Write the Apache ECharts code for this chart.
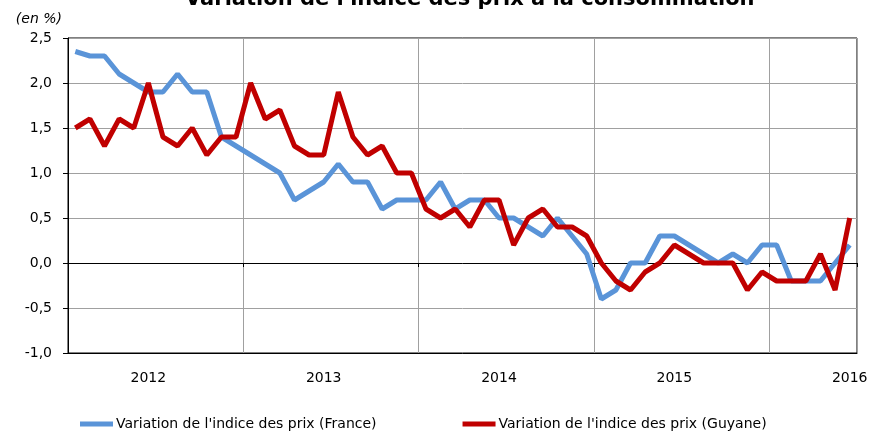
<!DOCTYPE html>
<html>
<head>
<meta charset="utf-8">
<script src="https://cdn.jsdelivr.net/npm/echarts@6/dist/echarts.min.js"></script>
<style>
  html, body { margin: 0; padding: 0; background: #fff; }
  #main { width: 873px; height: 434px; }
</style>
</head>
<body>
<div id="main"></div>
<script>
// mois de janvier 2012 à juin 2016
var years = [2012, 2013, 2014, 2015, 2016];
var months = [];
years.forEach(function (y) {
    for (var m = 1; m <= 12; m++) {
        if (y === 2016 && m > 6) break;
        months.push(y + '-' + (m < 10 ? '0' + m : m));
    }
});

var france = [
    2.35, 2.3, 2.3, 2.1, 2.0, 1.9, 1.9, 2.1, 1.9, 1.9, 1.4, 1.3,
    1.2, 1.1, 1.0, 0.7, 0.8, 0.9, 1.1, 0.9, 0.9, 0.6, 0.7, 0.7,
    0.7, 0.9, 0.6, 0.7, 0.7, 0.5, 0.5, 0.4, 0.3, 0.5, 0.3, 0.1,
    -0.4, -0.3, 0.0, 0.0, 0.3, 0.3, 0.2, 0.1, 0.0, 0.1, 0.0, 0.2,
    0.2, -0.2, -0.2, -0.2, 0.0, 0.2
];
var guyane = [
    1.5, 1.6, 1.3, 1.6, 1.5, 2.0, 1.4, 1.3, 1.5, 1.2, 1.4, 1.4,
    2.0, 1.6, 1.7, 1.3, 1.2, 1.2, 1.9, 1.4, 1.2, 1.3, 1.0, 1.0,
    0.6, 0.5, 0.6, 0.4, 0.7, 0.7, 0.2, 0.5, 0.6, 0.4, 0.4, 0.3,
    0.0, -0.2, -0.3, -0.1, 0.0, 0.2, 0.1, 0.0, 0.0, 0.0, -0.3, -0.1,
    -0.2, -0.2, -0.2, 0.1, -0.3, 0.5
];

var font = "'DejaVu Sans', sans-serif";

var myChart = echarts.init(document.getElementById('main'));
var option = {
    animation: false,
    textStyle: { fontFamily: font, color: '#000' },
    title: {
        text: "Variation de l'indice des prix à la consommation",
        left: 180,
        top: -16,
        textStyle: { fontFamily: font, fontSize: 21, fontWeight: 'bold', color: '#000' }
    },
    legend: {
        left: 75,
        top: 412,
        itemGap: 86,
        itemWidth: 33,
        itemHeight: 5,
        icon: 'rect',
        textStyle: { fontFamily: font, fontSize: 14, color: '#000', padding: [0, 0, 0, -2] },
        data: ["Variation de l'indice des prix (France)", "Variation de l'indice des prix (Guyane)"]
    },
    grid: {
        left: 68,
        right: 16,
        top: 38,
        bottom: 81,
        show: true,
        borderColor: '#000',
        borderWidth: 1
    },
    xAxis: [{
        type: 'category',
        data: months,
        boundaryGap: true,
        position: 'bottom',
        axisLine: { onZero: false, lineStyle: { color: '#000' } },
        axisTick: { show: false },
        axisLabel: {
            interval: function (i) { return i % 12 === 5; },
            formatter: function (v) { return v.slice(0, 4); },
            fontSize: 14,
            color: '#000',
            margin: 18
        },
        splitLine: {
            show: true,
            interval: function (i) { return i % 12 === 0; },
            lineStyle: { color: '#a0a0a0', width: 1 }
        }
    }, {
        type: 'category',
        data: months,
        boundaryGap: true,
        position: 'top',
        axisLine: { onZero: true, lineStyle: { color: '#000' } },
        axisTick: {
            show: true,
            inside: true,
            length: 4,
            interval: function (i) { return i % 12 === 0 && i > 0; },
            lineStyle: { color: '#000' }
        },
        axisLabel: { show: false },
        splitLine: { show: false }
    }],
    yAxis: {
        type: 'value',
        min: -1,
        max: 2.5,
        interval: 0.5,
        name: '(en %)',
        nameLocation: 'end',
        nameGap: 12,
        nameTextStyle: { fontFamily: font, fontSize: 14, fontStyle: 'italic', color: '#000', align: 'right', padding: [0, 6, 0, 0] },
        axisLine: { show: true, lineStyle: { color: '#000' } },
        axisTick: { show: true, length: 5, lineStyle: { color: '#000' } },
        axisLabel: {
            fontSize: 14,
            color: '#000',
            margin: 16,
            formatter: function (v) { return v.toFixed(1).replace('.', ','); }
        },
        splitLine: { lineStyle: { color: '#a0a0a0', width: 1 } }
    },
    series: [{
        name: "Variation de l'indice des prix (France)",
        type: 'line',
        data: france,
        symbol: 'none',
        lineStyle: { color: '#5a94d8', width: 5 },
        itemStyle: { color: '#5a94d8' }
    }, {
        name: "Variation de l'indice des prix (Guyane)",
        type: 'line',
        data: guyane,
        symbol: 'none',
        lineStyle: { color: '#c00000', width: 5 },
        itemStyle: { color: '#c00000' }
    }]
};
myChart.setOption(option);
</script>
</body>
</html>
